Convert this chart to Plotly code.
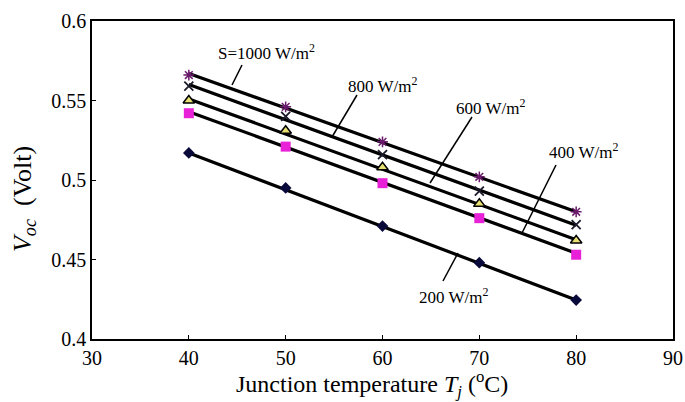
import plotly.graph_objects as go

temps = [40, 50, 60, 70, 80]
v_1000 = [0.566, 0.546, 0.524, 0.502, 0.480]
v_800 = [0.559, 0.540, 0.516, 0.493, 0.472]
v_600 = [0.550, 0.531, 0.508, 0.485, 0.462]
v_400 = [0.542, 0.521, 0.498, 0.476, 0.453]
v_200 = [0.517, 0.495, 0.471, 0.448, 0.4245]

# fitted line end values at 40 and 80 degC
fit_x = [40, 80]
fit_1000 = [0.567, 0.480]
fit_800 = [0.560, 0.4715]
fit_600 = [0.551, 0.4625]
fit_400 = [0.543, 0.454]
fit_200 = [0.517, 0.4245]

labels = ["S=1000 W/m<sup>2</sup>", "800 W/m<sup>2</sup>", "600 W/m<sup>2</sup>",
          "400 W/m<sup>2</sup>", "200 W/m<sup>2</sup>"]

FONT = "Liberation Serif, Times New Roman, serif"

fig = go.Figure()
for fy in [fit_1000, fit_800, fit_600, fit_400, fit_200]:
    fig.add_trace(go.Scatter(x=fit_x, y=fy, mode="lines",
                             line=dict(color="black", width=3.2),
                             showlegend=False, hoverinfo="skip"))

fig.add_trace(go.Scatter(x=temps, y=v_1000, mode="markers",
                         marker=dict(symbol="asterisk-open", size=9, color="#6a1a6a",
                                     line=dict(color="#6a1a6a", width=1.5)),
                         showlegend=False))
fig.add_trace(go.Scatter(x=temps, y=v_800, mode="markers",
                         marker=dict(symbol="x-thin-open", size=9, color="#1a1a2a",
                                     line=dict(color="#1a1a2a", width=1.8)),
                         showlegend=False))
fig.add_trace(go.Scatter(x=temps, y=v_600, mode="markers",
                         marker=dict(symbol="triangle-up", size=10, color="#e8e070",
                                     line=dict(color="black", width=1.5)),
                         showlegend=False))
fig.add_trace(go.Scatter(x=temps, y=v_400, mode="markers",
                         marker=dict(symbol="square", size=10, color="#e820d8",
                                     line=dict(width=0)),
                         showlegend=False))
fig.add_trace(go.Scatter(x=temps, y=v_200, mode="markers",
                         marker=dict(symbol="diamond", size=9, color="#0a0a3a",
                                     line=dict(width=0)),
                         showlegend=False))

# screen pixel -> data helpers for annotation placement (plot area 92..673, 21..339)
def dx(px):
    return 30 + (px - 92) / (581 / 60)

def dy(py):
    return 0.6 - (py - 21) / 1590

leaders = [((232, 85), (242, 65)), ((332, 137), (357, 95)), ((430, 183), (472, 117)),
           ((522, 233), (556, 165)), ((443, 281), (458, 253))]
text_pos = [(266, 52), (382, 85), (490, 107), (583, 151), (453, 296)]

for (p0, p1) in leaders:
    fig.add_shape(type="line", x0=dx(p0[0]), y0=dy(p0[1]), x1=dx(p1[0]), y1=dy(p1[1]),
                  xref="x", yref="y", line=dict(color="black", width=1.5))
for lab, (tx, ty) in zip(labels, text_pos):
    fig.add_annotation(x=dx(tx), y=dy(ty), xref="x", yref="y", text=lab,
                       showarrow=False, font=dict(family=FONT, size=17, color="black"))

# axis titles
fig.add_annotation(xref="paper", yref="paper", x=0.5, y=0, xshift=-11, yshift=-45,
                   xanchor="center", yanchor="middle", showarrow=False,
                   text="Junction temperature <i>T<sub>j</sub></i> (<sup>o</sup>C)",
                   font=dict(family=FONT, size=24, color="black"))
fig.add_annotation(xref="paper", yref="paper", x=0, y=0.44, xshift=-68,
                   xanchor="center", yanchor="middle", showarrow=False, textangle=-90,
                   text="<i>V<sub>oc</sub></i>  (Volt)",
                   font=dict(family=FONT, size=26, color="black"))

fig.update_layout(
    width=685, height=402, autosize=False,
    margin=dict(l=92, r=12, t=21, b=63),
    plot_bgcolor="white", paper_bgcolor="white",
    font=dict(family=FONT, color="black"),
)
fig.update_xaxes(range=[30, 90], tickvals=[30, 40, 50, 60, 70, 80, 90],
                 ticks="inside", ticklen=4, tickcolor="black", automargin=False,
                 showline=True, linecolor="black", linewidth=1.5, mirror=True,
                 showgrid=False, zeroline=False,
                 tickfont=dict(family=FONT, size=20))
fig.update_yaxes(range=[0.4, 0.6], tickvals=[0.4, 0.45, 0.5, 0.55, 0.6],
                 ticktext=["0.4", "0.45", "0.5", "0.55", "0.6"],
                 ticks="inside", ticklen=4, tickcolor="black", automargin=False,
                 showline=True, linecolor="black", linewidth=1.5, mirror=True,
                 showgrid=False, zeroline=False,
                 tickfont=dict(family=FONT, size=20))

# remove the default page margin so the figure sits at the window's top-left corner
fig.write_html("out.html",
               config={"displayModeBar": False, "responsive": False},
               post_script="document.body.style.margin='0';document.body.style.overflow='hidden';")
